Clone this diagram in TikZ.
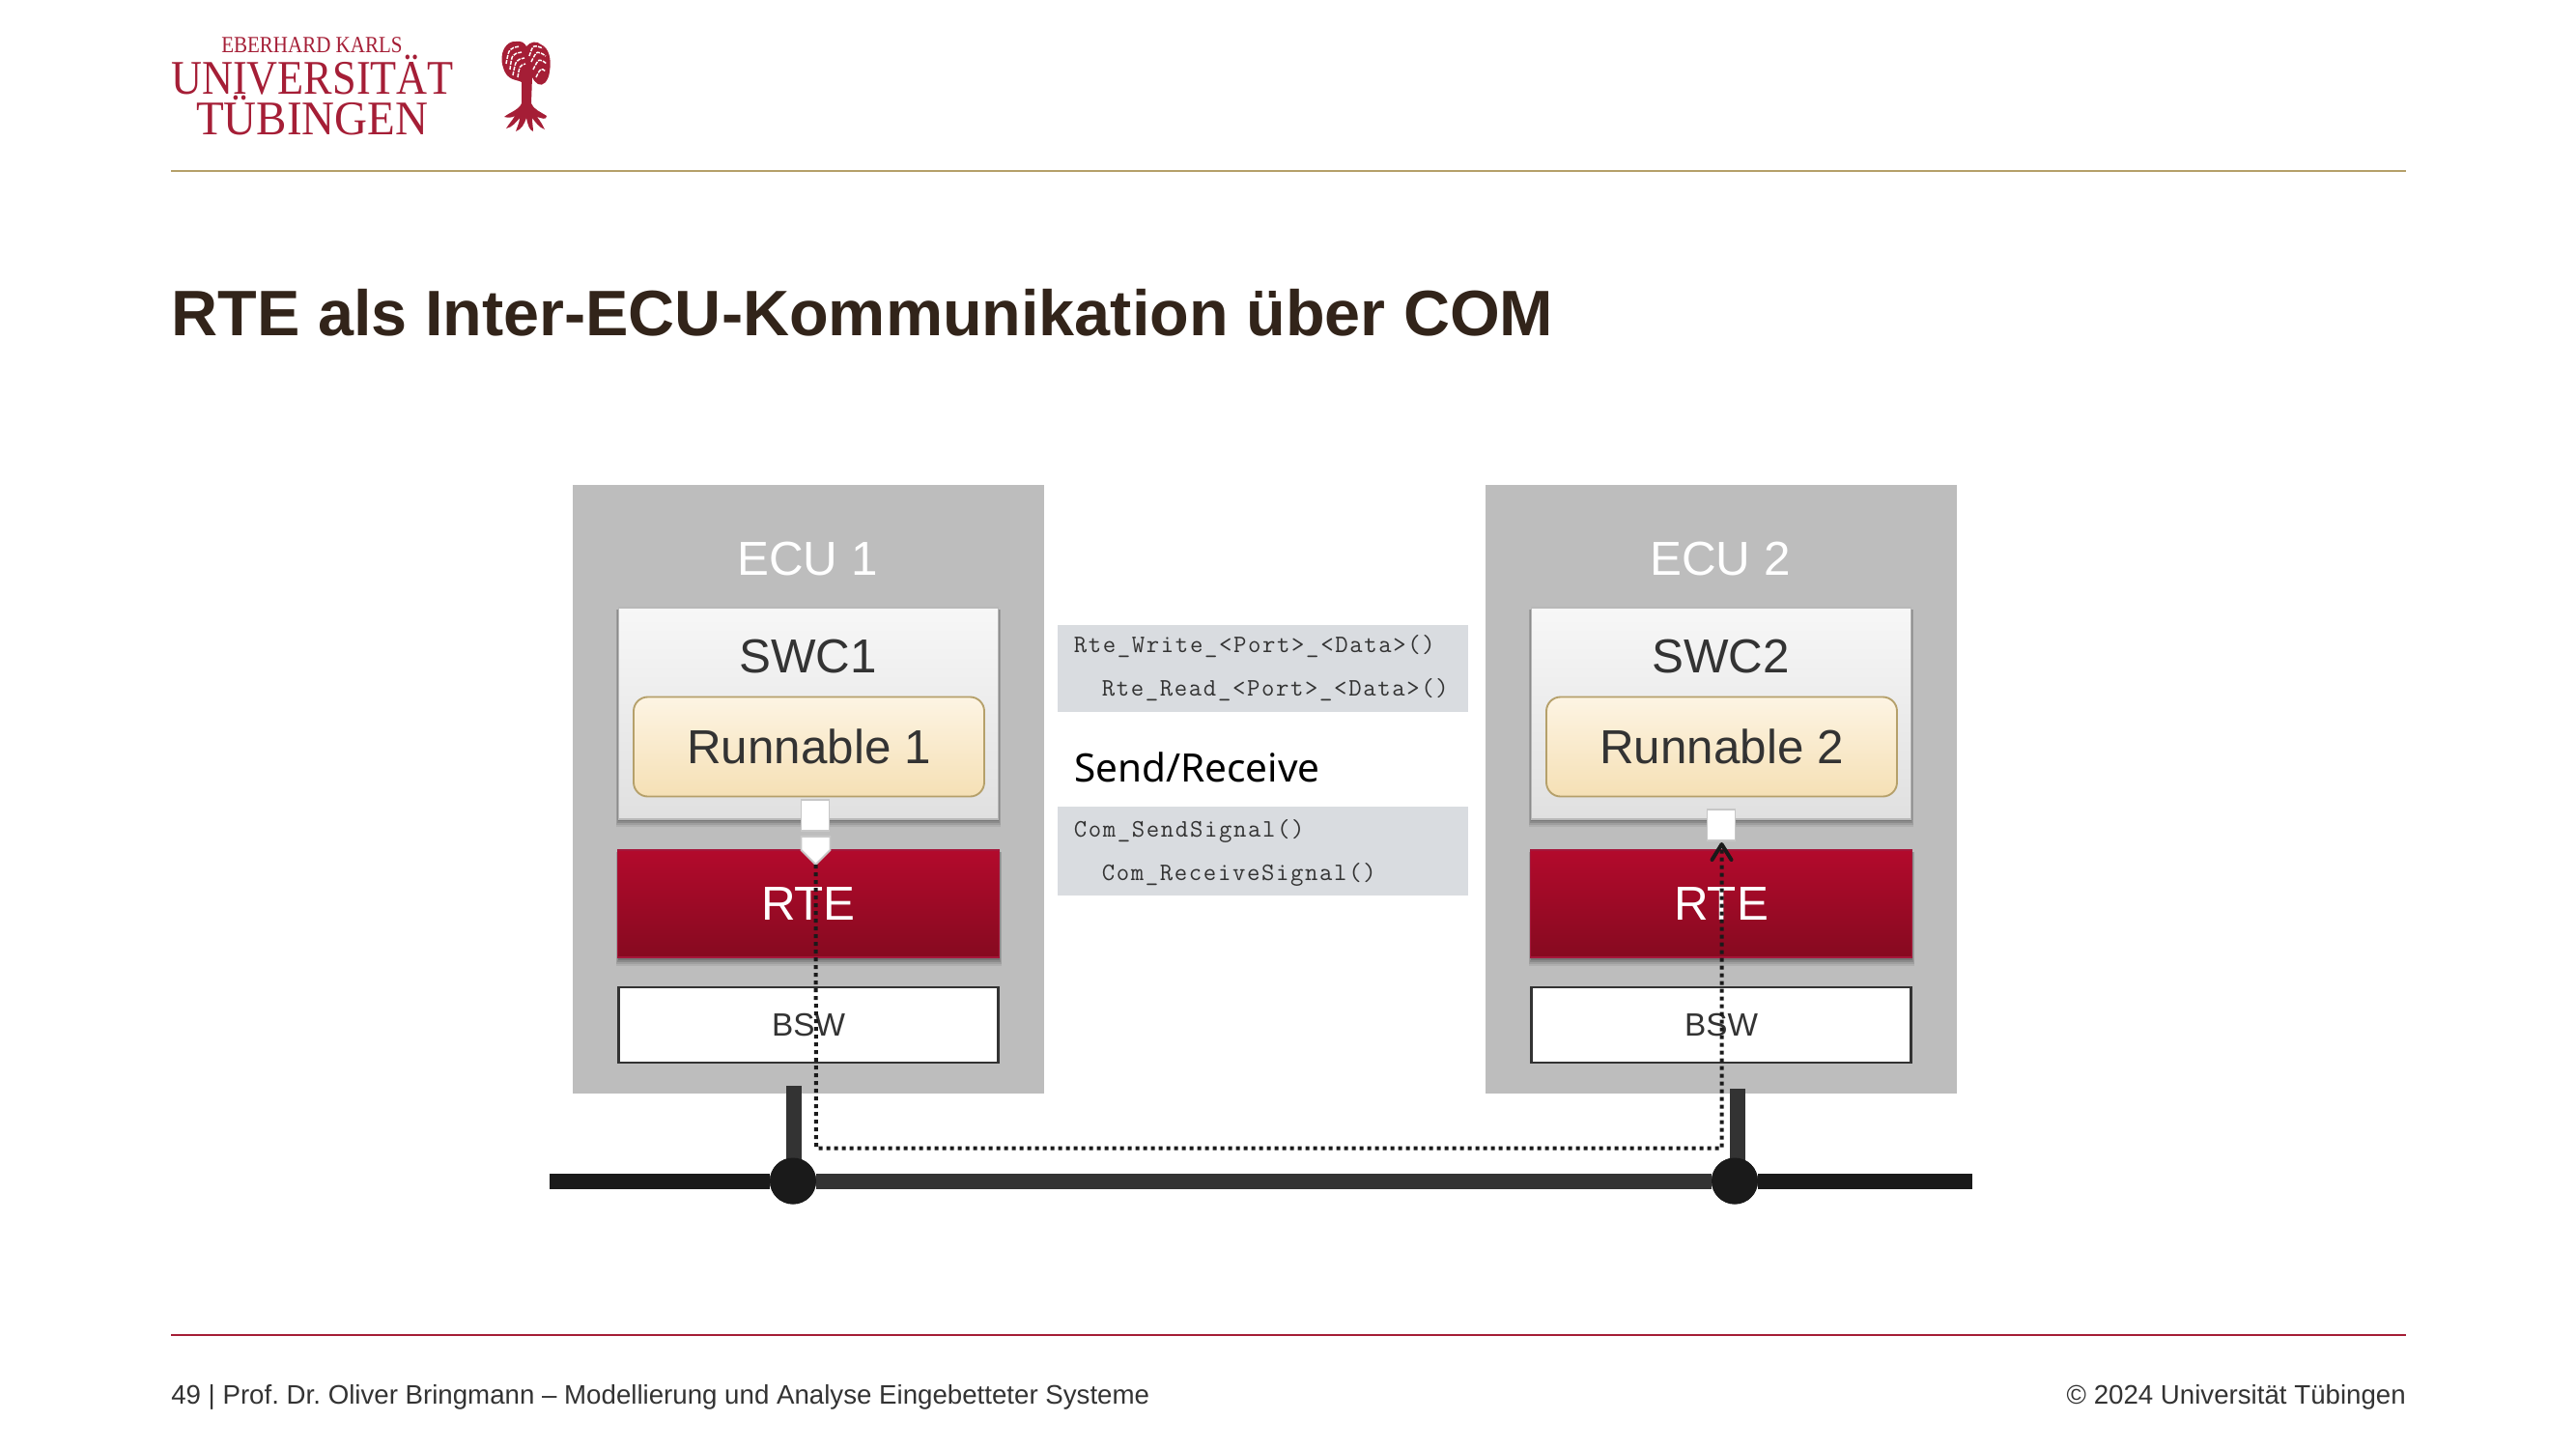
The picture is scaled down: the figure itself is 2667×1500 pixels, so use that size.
\documentclass[tikz,border=0pt]{standalone}
\usepackage{fontspec}
\setmainfont{Liberation Sans}
\newfontfamily\seriffont{Liberation Serif}
\newfontfamily\codefont[LetterSpace=6.3,Ligatures=NoCommon]{Latin Modern Mono}
\newfontfamily\tahomafont{Noto Sans}
\usetikzlibrary{arrows.meta,shapes.geometric}
\frenchspacing
\definecolor{unired}{HTML}{A51E36}
\definecolor{unigold}{HTML}{B5A06A}
\definecolor{titlebrown}{HTML}{32241A}
\definecolor{ecugray}{HTML}{BDBDBD}
\definecolor{ink}{HTML}{333333}
\definecolor{nearblack}{HTML}{1A1A1A}
\definecolor{codebg}{HTML}{D9DCE0}
\definecolor{rteTop}{HTML}{B30A2C}
\definecolor{rteBot}{HTML}{860A20}
\definecolor{rteEdge}{HTML}{A5163A}
\definecolor{runTop}{HTML}{FDF4E3}
\definecolor{runBot}{HTML}{F5E0B5}
\definecolor{swcTop}{HTML}{F7F7F7}
\definecolor{swcBot}{HTML}{E0E0E0}
\newcommand{\fs}[1]{\fontsize{#1}{#1}\selectfont}
\newcommand{\dn}[1]{\raisebox{-1pt}{#1}}
\newcommand{\softshadow}[4]{%
  \foreach \d/\o in {7/.07,5/.09,3/.12,1/.14}{
    \fill[black,opacity=\o] ({#1-\d*.35},{#2+2}) rectangle ({#3+\d*.35},{#4+\d+1});
  }}
\tikzset{
  box/.style={rectangle,inner sep=0pt,outer sep=0pt},
  ecubox/.style={box,fill=ecugray,minimum width=488*.75pt,minimum height=630*.75pt},
  swcbox/.style={box,top color=swcTop,bottom color=swcBot,draw=black!28,line width=1.2pt,minimum width=393*.75pt,minimum height=219*.75pt},
  runbox/.style={box,rounded corners=11pt,top color=runTop,bottom color=runBot,draw=unigold,line width=1.4pt,minimum width=363*.75pt,minimum height=103*.75pt,text=ink,font=\fs{37}},
  rtebox/.style={box,top color=rteTop,bottom color=rteBot,draw=rteEdge,line width=1.3pt,minimum width=395*.75pt,minimum height=111*.75pt,text=white,font=\fs{37}},
  bswbox/.style={box,fill=white,draw=ink,line width=2pt,minimum width=393*.75pt,minimum height=78*.75pt,text=ink,font=\fs{25}},
  portbox/.style={box,fill=white,draw=black!22,line width=1.4pt},
  head/.style={anchor=base,inner sep=0pt,font=\fs{37}},
  codebox/.style={box,fill=codebg,minimum width=425*.75pt},
  code/.style={anchor=base west,inner sep=0pt,text=ink,font=\codefont\fs{19.5}},
  bus/.style={line width=12pt,draw=nearblack},
  stub/.style={line width=12pt,draw=ink},
  junction/.style={circle,fill=nearblack,inner sep=0pt,minimum size=48*.75pt},
  signal/.style={line width=3pt,draw=nearblack,dash pattern=on 3pt off 3pt},
  logotext/.style={anchor=base west,inner sep=0pt,text=unired},
}
\begin{document}
\begin{tikzpicture}[x=.75pt,y=-.75pt]
\useasboundingbox (0,0) rectangle (2667,1500);
\fill[white] (0,0) rectangle (2667,1500);

% header logo
\node[logotext,font=\seriffont\fs{18}] (l1) at (229,54) {\scalebox{.875}[1]{EBERHARD KARLS}};
\node[logotext,font=\seriffont\fs{37.5}] (l2) at (177,97) {\scalebox{.885}[1]{UNIVERSITÄT}};
\node[logotext,font=\seriffont\fs{37.5}] (l3) at (203,139) {\smash{\scalebox{.94}[1]{TÜBINGEN}}};
% tree
\fill[unired] (521,70) .. controls (516,55) and (524,42) .. (534,43) .. controls (539,42) and (543,44) .. (545,48)
  .. controls (549,43) and (556,42) .. (560,46) .. controls (569,50) and (571,62) .. (569,74)
  .. controls (568,84) and (562,90) .. (557,87) .. controls (553,84) and (552,82) .. (551,80)
  -- (550,107) .. controls (552,113) and (560,116) .. (566,120) .. controls (566,125) and (560,122) .. (556,121)
  .. controls (560,126) and (562,130) .. (564,134) .. controls (558,132) and (554,126) .. (551,122)
  .. controls (551,128) and (552,132) .. (552,136) .. controls (548,135) and (546,128) .. (545,122)
  .. controls (543,128) and (540,134) .. (534,136) .. controls (536,130) and (538,126) .. (538,122)
  .. controls (535,126) and (530,132) .. (524,133) .. controls (527,128) and (531,124) .. (533,120)
  .. controls (530,122) and (526,122) .. (522,121) .. controls (528,116) and (537,114) .. (540,107)
  -- (540,85) .. controls (535,82) and (525,84) .. (521,70) -- cycle;
\foreach \a/\b/\c/\d/\e/\f in {524/66/527/50/538/48,528/72/530/56/540/54,531/78/534/62/543/60,536/80/538/68/544/66,
  548/58/552/46/562/50,550/64/556/52/565/58,552/72/558/60/566/66,555/80/560/70/565/74}{
  \draw[white,line width=1.1pt,dash pattern=on 3pt off .9pt] (\a,\b) .. controls (\c,\d) and (\c,\d) .. (\e,\f);
}

\draw[unigold,line width=1.6pt] (177,177) -- (2491,177);

% title
\node[anchor=base west,inner sep=0pt,text=titlebrown,font=\bfseries\fs{49.9}] (title) at (177.5,347) {RTE als Inter-ECU-Kommunikation über COM};

% ECU frames
\node[ecubox] (ecuA) at (837,817) {};
\node[ecubox] (ecuB) at (1782,817) {};
\node[head,text=white] (ecuAt) at (836,595) {ECU 1};
\node[head,text=white] (ecuBt) at (1781,595) {ECU 2};

% shadows
\softshadow{640}{629}{1034}{848}
\softshadow{1585}{629}{1979}{848}
\softshadow{640}{880}{1035}{992}
\softshadow{1585}{880}{1980}{992}

% SWC boxes
\node[swcbox] (swcA) at (837,738.5) {};
\node[swcbox] (swcB) at (1782,738.5) {};
\node[head,text=ink] (swcAt) at (836.5,696) {SWC1};
\node[head,text=ink] (swcBt) at (1781.5,696) {SWC2};
\node[runbox] (runA) at (837.5,773) {\raisebox{-1.8pt}{Runnable 1}};
\node[runbox] (runB) at (1782.5,773) {\raisebox{-1.8pt}{Runnable 2}};

% RTE, BSW
\node[rtebox] (rteA) at (837,935.5) {\dn{RTE}};
\node[rtebox] (rteB) at (1782,935.5) {\dn{RTE}};
\node[bswbox] (bswA) at (837,1061) {\dn{BSW}};
\node[bswbox] (bswB) at (1782,1061) {\dn{BSW}};

% ports
\node[portbox,minimum width=29*.75pt,minimum height=32*.75pt] (portAup) at (844,844) {};
\node[portbox,minimum width=29*.75pt,minimum height=32*.75pt] (portB) at (1782,854) {};
\coordinate (portAtip) at (844.5,895);
\filldraw[fill=white,draw=black!22,line width=1.4pt] (829.5,866) -- (859.5,866) -- (859.5,880) -- (portAtip) -- (829.5,880) -- cycle;

% code boxes
\node[codebox,minimum height=90*.75pt] (codeA) at (1307.5,691.5) {};
\node[codebox,minimum height=92*.75pt] (codeB) at (1307.5,881) {};
\node[code] (c1) at (1111.5,675) {Rte\_Write\_<Port>\_<Data>()};
\node[code] (c2) at (1140.5,720) {Rte\_Read\_<Port>\_<Data>()};
\node[anchor=base west,inner sep=0pt,text=black,font=\tahomafont\fs{30.4}] (sr) at (1112,809) {Send/Receive};
\node[code] (c3) at (1111.5,866) {Com\_SendSignal()};
\node[code] (c4) at (1140.5,911) {Com\_ReceiveSignal()};

% bus
\coordinate (busL) at (569,1222.5);
\coordinate (busR) at (2042,1222.5);
\coordinate (stubAtop) at (822,1124);
\coordinate (stubBtop) at (1798.5,1127);
\coordinate (stubBend) at (1798.5,1222);
\coordinate (stubAend) at (822,1222);
\node[junction] (jA) at (821,1222.5) {};
\node[junction] (jB) at (1796,1222.5) {};
\draw[bus] (busL) -- (jA);
\draw[bus] (jB) -- (busR);
\draw[bus,draw=ink] (jA) -- (jB);
\draw[stub] (stubAtop) -- (stubAend);
\draw[stub] (stubBtop) -- (stubBend);
\node[junction] at (jA) {};
\node[junction] at (jB) {};

% signal path
\coordinate (bendA) at (845,1188.5);
\coordinate (bendB) at (1782.5,1188.5);
\coordinate (sigEnd) at (1782.5,872);
\draw[signal,-{Straight Barb[length=12pt,width=15pt,line cap=round,line join=round]}] (portAtip) -- (bendA) -- (bendB) -- (sigEnd);

% footer
\draw[unired,line width=1.6pt] (177,1382) -- (2491,1382);
\node[anchor=base west,inner sep=0pt,text=ink,font=\fs{20.75}] (foot) at (177,1453) {49 | Prof. Dr. Oliver Bringmann – Modellierung und Analyse Eingebetteter Systeme};
\node[anchor=base east,inner sep=0pt,text=ink,font=\fs{20.75}] (copy) at (2491,1453) {© 2024 Universität Tübingen};
\end{tikzpicture}
\end{document}
